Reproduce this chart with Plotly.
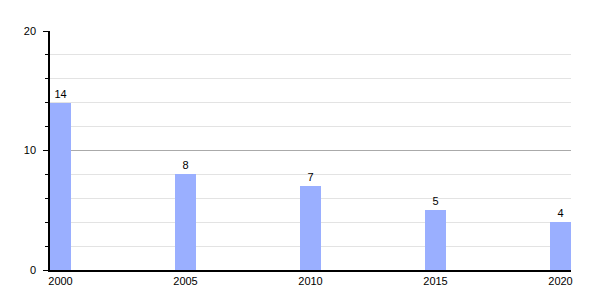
import plotly.graph_objects as go

years = [2000, 2005, 2010, 2015, 2020]
values = [14, 8, 7, 5, 4]
tick_labels = ["2000", "2005", "2010", "2015", "2020"]

fig = go.Figure(go.Bar(
    x=years, y=values, width=0.84,
    marker=dict(color="#9AAFFF", line=dict(width=0)),
    text=[str(v) for v in values], textposition="outside",
    textfont=dict(color="#000000", size=11, family="Liberation Sans"),
    cliponaxis=False,
))

fig.update_layout(
    width=600, height=300,
    margin=dict(l=50, r=29, t=31, b=30),
    plot_bgcolor="#ffffff", paper_bgcolor="#ffffff",
    font=dict(family="Liberation Sans", size=11, color="#000000"),
    showlegend=False, bargap=0,
)
fig.update_xaxes(
    range=[1999.58, 2020.42], tickvals=years, ticktext=tick_labels,
    showgrid=False, showline=True, linecolor="#000000", linewidth=1.5,
    ticks="", ticklabelstandoff=0, zeroline=False,
)
fig.update_yaxes(
    range=[0, 20], tickvals=[0, 10, 20],
    showgrid=True, gridcolor="#aaaaaa", gridwidth=1,
    showline=True, linecolor="#000000", linewidth=1.5,
    ticks="outside", ticklen=5, tickcolor="#000000", ticklabelstandoff=5,
    zeroline=False,
    minor=dict(dtick=2, tick0=0, ticks="outside", ticklen=3, tickcolor="#000000",
               showgrid=True, gridcolor="#e3e3e3", gridwidth=1),
)

fig.write_html("out.html")
